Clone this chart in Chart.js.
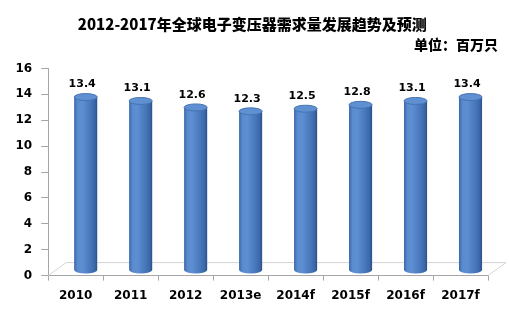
<!DOCTYPE html>
<html>
<head>
<meta charset="utf-8">
<script src="https://cdn.jsdelivr.net/npm/chart.js@4/dist/chart.umd.min.js"></script>
<style>
  html, body { margin: 0; padding: 0; background: #ffffff; }
  #wrap { width: 509px; height: 320px; }
</style>
</head>
<body>
<div id="wrap"><canvas id="c" width="509" height="320"></canvas></div>
<script>
const categories = ['2010', '2011', '2012', '2013e', '2014f', '2015f', '2016f', '2017f'];
const demand = [13.4, 13.1, 12.6, 12.3, 12.5, 12.8, 13.1, 13.4];
const yTicks = [0, 2, 4, 6, 8, 10, 12, 14, 16];
const titleText = '2012-2017年全球电子变压器需求量发展趋势及预测';
const unitText = '单位：百万只';

const DEPTH_X = 10, DEPTH_Y = 5, RY = 3.5;

function barGradient(chart, cx, w) {
  const g = chart.ctx.createLinearGradient(cx - w / 2, 0, cx + w / 2, 0);
  g.addColorStop(0, '#3b68a6');
  g.addColorStop(0.15, '#5a8bcf');
  g.addColorStop(0.35, '#5e8fd3');
  g.addColorStop(0.7, '#4877bb');
  g.addColorStop(0.9, '#3a67a7');
  g.addColorStop(1, '#2a4f85');
  return g;
}

const cylinderPlugin = {
  id: 'cylinder',
  beforeDatasetsDraw(chart) {
    const ctx = chart.ctx;
    const x = chart.scales.x, y = chart.scales.y;
    const y0 = y.getPixelForValue(0);
    ctx.save();
    ctx.strokeStyle = '#d4d4d4';
    ctx.lineWidth = 1;
    ctx.beginPath();
    ctx.moveTo(x.left, y0);
    ctx.lineTo(x.left + 18, y0 - 13);
    ctx.lineTo(x.right + 18, y0 - 13);
    ctx.lineTo(x.right, y0);
    ctx.stroke();
    ctx.restore();
    ctx.save();
    ctx.translate(DEPTH_X, -DEPTH_Y);
  },
  afterDatasetsDraw(chart) {
    const ctx = chart.ctx;
    const meta = chart.getDatasetMeta(0);
    meta.data.forEach((el) => {
      const rx = el.width / 2;
      ctx.beginPath();
      ctx.ellipse(el.x, el.base, rx, RY, 0, 0, Math.PI);
      ctx.fillStyle = barGradient(chart, el.x, el.width);
      ctx.fill();
      ctx.beginPath();
      ctx.ellipse(el.x, el.y, rx, RY, 0, 0, Math.PI * 2);
      ctx.fillStyle = '#5f90d2';
      ctx.fill();
      ctx.strokeStyle = '#4573b2';
      ctx.lineWidth = 1;
      ctx.stroke();
    });
    ctx.restore();
    ctx.save();
    ctx.fillStyle = '#000000';
    ctx.font = 'bold 11px "DejaVu Sans"';
    ctx.textAlign = 'center';
    ctx.textBaseline = 'middle';
    meta.data.forEach((el, i) => {
      ctx.fillText(demand[i].toFixed(1), el.x + 6.5, el.y - 17.5);
    });
    ctx.restore();
  }
};

new Chart(document.getElementById('c'), {
  type: 'bar',
  data: {
    labels: categories,
    datasets: [{
      data: demand,
      clip: false,
      barPercentage: 0.42,
      categoryPercentage: 1.0,
      borderWidth: 0,
      backgroundColor: (c) => {
        const chart = c.chart;
        const xs = chart.scales.x;
        if (!chart.chartArea || !xs) return '#4f81bd';
        const cx = xs.getPixelForValue(c.dataIndex);
        const w = (chart.chartArea.width / categories.length) * 0.42;
        return barGradient(chart, cx, w);
      }
    }]
  },
  options: {
    responsive: false,
    animation: false,
    layout: { padding: { left: 6.5, right: 11, top: 0, bottom: 9 } },
    plugins: {
      legend: { display: false },
      tooltip: { enabled: false },
      title: {
        display: true,
        text: titleText,
        color: '#000000',
        font: { family: '"Noto Sans CJK SC"', size: 15, weight: '900' },
        padding: { top: 15, bottom: 0 }
      },
      subtitle: {
        display: true,
        text: unitText,
        align: 'end',
        color: '#000000',
        font: { family: '"Noto Sans CJK SC"', size: 14, weight: '900' },
        padding: { top: 3.6, bottom: 15 }
      }
    },
    scales: {
      x: {
        grid: {
          display: true,
          drawOnChartArea: false,
          drawTicks: true,
          tickLength: 5,
          color: '#a6a6a6'
        },
        border: { display: true, color: '#a6a6a6' },
        ticks: {
          color: '#000000',
          padding: 8,
          font: { family: '"DejaVu Sans"', size: 12, weight: 'bold' }
        }
      },
      y: {
        min: 0,
        max: 16,
        afterBuildTicks: (s) => { s.ticks = yTicks.map(v => ({ value: v })); },
        grid: {
          display: true,
          drawOnChartArea: false,
          drawTicks: true,
          tickLength: 7,
          color: '#a6a6a6'
        },
        border: { display: true, color: '#a6a6a6' },
        ticks: {
          color: '#000000',
          padding: 9,
          font: { family: '"DejaVu Sans"', size: 12, weight: 'bold' }
        }
      },
      y1: {
        position: 'right',
        display: true,
        grid: { display: false },
        border: { display: false },
        ticks: { display: false },
        afterFit: (s) => { s.width = 10; }
      }
    }
  },
  plugins: [cylinderPlugin]
});
</script>
</body>
</html>
